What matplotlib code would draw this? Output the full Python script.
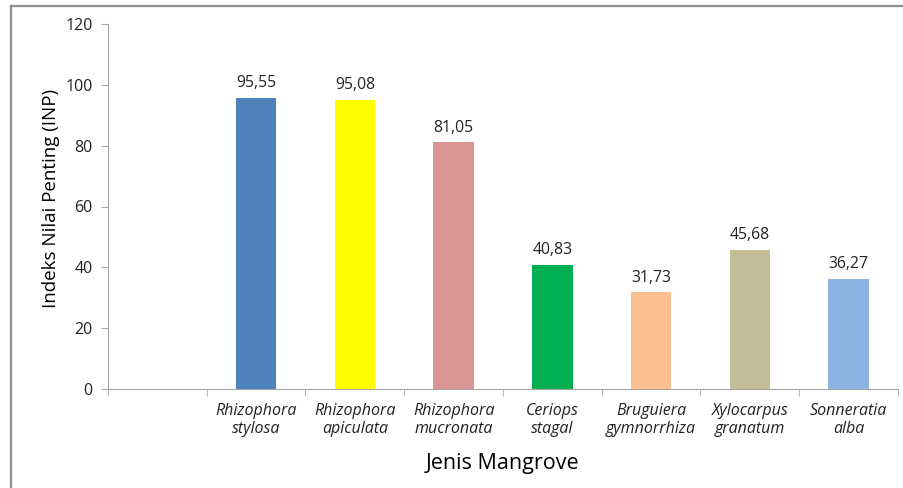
import numpy as np
import matplotlib.pyplot as plt
from matplotlib.lines import Line2D

species = ["", "Rhizophora\nstylosa", "Rhizophora\napiculata", "Rhizophora\nmucronata",
           "Ceriops\nstagal", "Bruguiera\ngymnorrhiza", "Xylocarpus\ngranatum", "Sonneratia\nalba"]
inp = [np.nan, 95.55, 95.08, 81.05, 40.83, 31.73, 45.68, 36.27]
colors = ["#ffffff", "#4f81bd", "#ffff00", "#d99594", "#00b050", "#fac090", "#c4bd97", "#8db3e2"]

plt.rcParams['font.family'] = ['Open Sans', 'DejaVu Sans']

fig = plt.figure(figsize=(9.04, 4.88), dpi=100)
ax = fig.add_axes([108/904, 1 - 389/488, 790/904, 365/488])

x = np.arange(len(species))
ax.bar(x, inp, width=0.41, color=colors)

for xi, v in zip(x, inp):
    if np.isnan(v):
        continue
    ax.annotate(f"{v:.2f}".replace(".", ","), (xi, v), xytext=(0, 5),
                textcoords="offset points", ha="center", va="bottom",
                fontsize=11.3, color="#222222")

ax.set_xlim(-0.5, len(species) - 0.5)
ax.set_ylim(0, 120)
ax.set_yticks(np.arange(0, 121, 20))
ax.set_xticks(x)
ax.set_xticklabels(species, fontstyle="italic", fontsize=11.5, color="#222222",
                   linespacing=1.15)
ax.set_xticks(np.arange(-0.5, len(species), 1), minor=True)
ax.tick_params(axis="x", which="major", length=0, pad=10)
ax.tick_params(axis="x", which="minor", length=5, color="#a6a6a6", direction="out")
ax.tick_params(axis="y", length=5, color="#a6a6a6", labelsize=11.5, labelcolor="#222222", pad=6)

for s in ["top", "right"]:
    ax.spines[s].set_visible(False)
for s in ["left", "bottom"]:
    ax.spines[s].set_color("#a6a6a6")

ax.set_ylabel("Indeks Nilai Penting (INP)", fontsize=13.5)
ax.yaxis.set_label_coords(-0.061, 0.523)
ax.set_xlabel("Jenis Mangrove", fontsize=15.5)
ax.xaxis.set_label_coords(0.5, -0.175)

# outer chart-area border (left and top only visible)
fig.add_artist(Line2D([10.5/904, 10.5/904], [0, 1 - 5.5/488], transform=fig.transFigure,
                      color="#8c8c8c", lw=1.6))
fig.add_artist(Line2D([10.5/904, 1], [1 - 5.5/488, 1 - 5.5/488], transform=fig.transFigure,
                      color="#8c8c8c", lw=1.6))

fig.savefig("out.png", dpi=100)
